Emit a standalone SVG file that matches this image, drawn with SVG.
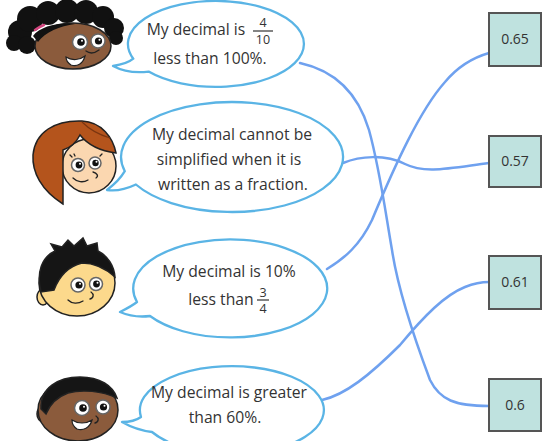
<svg xmlns="http://www.w3.org/2000/svg" width="542" height="441" viewBox="0 0 542 441">
  <style>
    .bubble { fill: #ffffff; stroke: #5ab4e5; stroke-width: 2.3; stroke-linejoin: round; }
    .txt { font-family: "Open Sans", "Liberation Sans", sans-serif; font-size: 15.7px; fill: #333333; text-anchor: middle; }
    .frac { font-family: "Open Sans", "Liberation Sans", sans-serif; font-size: 12.5px; fill: #333333; text-anchor: middle; }
    .bar { stroke: #333333; stroke-width: 1.2; }
    .box { fill: #bfe2df; stroke: #555555; stroke-width: 2; }
    .val { font-family: "Open Sans", "Liberation Sans", sans-serif; font-size: 14px; fill: #333333; text-anchor: middle; }
    .link { fill: none; stroke: #6fa1ef; stroke-width: 2.5; stroke-linecap: round; stroke-linejoin: round; }
    .outline { stroke: #222222; stroke-width: 1.5; }
    .eyew { fill: #ffffff; stroke: #666666; stroke-width: 1.5; }
    .pupil { fill: #111111; }
    .glint { fill: #ffffff; }
    .line { fill: none; stroke: #222222; stroke-width: 1.3; stroke-linecap: round; }
  </style>

  <!-- connectors -->
  <g id="connectors">
    <path class="link" d="M 300 63 C 332 70 357 90 369 130 C 380 170 385 210 392 250 C 398 290 415 340 430 380 C 440 400 455 406 489 406"/>
    <path class="link" d="M 343 163 C 360 156 385 154 405 164 C 425 174 450 168 489 163"/>
    <path class="link" d="M 327 269 C 345 258 360 245 372 220 C 395 165 420 110 445 82 C 460 64 475 57 489 53"/>
    <path class="link" d="M 322 400 C 345 395 370 375 400 345 C 425 315 445 295 465 287 C 475 283 482 282 489 282"/>
  </g>

  <!-- speaker 1 -->
  <g id="speaker1">
    <g id="face1">
      <g fill="#111111">
        <circle cx="20" cy="32" r="12"/>
        <circle cx="30" cy="19" r="13"/>
        <circle cx="48" cy="13" r="12"/>
        <circle cx="67" cy="11" r="12"/>
        <circle cx="86" cy="12" r="12"/>
        <circle cx="103" cy="17" r="11"/>
        <circle cx="114" cy="28" r="10"/>
        <circle cx="116" cy="38" r="7"/>
        <circle cx="14" cy="43" r="8"/>
        <circle cx="27" cy="45" r="9"/>
      </g>
      <ellipse cx="73" cy="46" rx="38" ry="23" fill="#8b5b3c" class="outline"/>
      <path d="M 33 36 C 40 26 60 22 75 24 C 60 26 45 32 38 42 Z" fill="#111111"/>
      <path d="M 35 30 C 38 28 41 26 44 25" fill="none" stroke="#d2457e" stroke-width="2.5" stroke-linecap="round"/>
      <circle cx="80" cy="42" r="7.5" class="eyew"/>
      <circle cx="81" cy="42" r="3.8" class="pupil"/>
      <circle cx="82" cy="40.8" r="1" class="glint"/>
      <circle cx="98" cy="41" r="7" class="eyew"/>
      <circle cx="98.5" cy="41" r="3.6" class="pupil"/>
      <circle cx="99.5" cy="39.8" r="1" class="glint"/>
      <path class="line" d="M 86 51 C 90 54 95 53 99 50"/>
      <path d="M 66 57 C 72 61 80 60 85 56 C 83 64 77 67 71 65 C 68 63 66 60 66 57 Z" fill="#ffffff" stroke="#222222" stroke-width="1.2"/>
    </g>
    <path class="bubble" d="M 148.6 71.6 Q 128 74 113 66 Q 127 64 133.3 58.7 A 88 43 0 1 1 148.6 71.6 Z"/>
    <text class="txt" x="196" y="35">My decimal is</text>
    <text class="frac" x="263" y="27">4</text>
    <line class="bar" x1="253" y1="31" x2="273" y2="31"/>
    <text class="frac" x="263" y="44">10</text>
    <text class="txt" x="210" y="64">less than 100%.</text>
  </g>

  <!-- speaker 2 -->
  <g id="speaker2">
    <g id="face2">
      <ellipse cx="89" cy="166" rx="27" ry="27" fill="#fbd7b0" class="outline"/>
      <path d="M 63 204 C 41 190 32 172 33 155 C 35 132 55 120 82 121 C 102 122 113 138 116 153 C 100 151 88 145 80 135 C 76 143 69 148 63 150 Z" fill="#b4541c" class="outline"/>
      <path d="M 82 122 C 90 130 100 135 110 138" fill="none" stroke="#7a3510" stroke-width="1.2"/>
      <circle cx="78" cy="165" r="6.5" class="eyew"/>
      <circle cx="79" cy="165" r="3.4" class="pupil"/>
      <circle cx="80" cy="163.8" r="1" class="glint"/>
      <circle cx="95" cy="163" r="6" class="eyew"/>
      <circle cx="95.5" cy="163" r="3.2" class="pupil"/>
      <circle cx="96.5" cy="161.8" r="1" class="glint"/>
      <path class="line" d="M 72 157 L 70 155 M 75 156 L 74 154 M 100 156 L 102 154"/>
      <path class="line" d="M 93 172 C 97 173 99 176 96 178"/>
      <path class="line" d="M 73 178 C 77 182 83 183 88 180"/>
    </g>
    <path class="bubble" d="M 135.9 184.5 Q 120 192 107 190 Q 119 181 124.8 171.2 A 111 55 0 1 1 135.9 184.5 Z"/>
    <text class="txt" x="232" y="140">My decimal cannot be</text>
    <text class="txt" x="229" y="165">simplified when it is</text>
    <text class="txt" x="233" y="190">written as a fraction.</text>
  </g>

  <!-- speaker 3 -->
  <g id="speaker3">
    <g id="face3">
      <ellipse cx="43" cy="297" rx="6" ry="8" fill="#fcd98c" class="outline"/>
      <ellipse cx="77" cy="283" rx="38" ry="33" fill="#fcd98c" class="outline"/>
      <path d="M 41 292 C 36 272 42 257 55 251 L 51 244 L 62 247 L 68 240 L 74 246 L 83 238 L 87 246 L 97 243 L 98 251 C 108 256 114 266 115 277 C 105 268 93 263 82 263 C 70 266 60 274 54 290 Z" fill="#151515" class="outline"/>
      <circle cx="78" cy="285" r="7" class="eyew"/>
      <circle cx="79" cy="285" r="3.6" class="pupil"/>
      <circle cx="80" cy="283.8" r="1" class="glint"/>
      <circle cx="96" cy="284" r="6.5" class="eyew"/>
      <circle cx="96.5" cy="284" r="3.4" class="pupil"/>
      <circle cx="97.5" cy="282.8" r="1" class="glint"/>
      <path class="line" d="M 91 292 C 94 294 94 298 90 299"/>
      <path class="line" d="M 68 300 C 72 304 78 304 83 301"/>
    </g>
    <path class="bubble" d="M 150 316 Q 134 318 120 312 Q 132 306 137 302 A 97 49 0 1 1 150 316 Z"/>
    <text class="txt" x="229" y="277">My decimal is 10%</text>
    <text class="txt" x="221" y="305">less than</text>
    <text class="frac" x="263" y="297">3</text>
    <line class="bar" x1="257" y1="300" x2="269" y2="300"/>
    <text class="frac" x="263" y="313">4</text>
  </g>

  <!-- speaker 4 -->
  <g id="speaker4">
    <g id="face4">
      <ellipse cx="43" cy="414" rx="6" ry="8" fill="#8b5b3c" class="outline"/>
      <ellipse cx="78" cy="410" rx="40" ry="31" fill="#8b5b3c" class="outline"/>
      <path d="M 41 409 C 40 388 58 377 80 377 C 100 377 113 386 117 398 C 102 391 82 389 68 393 C 57 397 50 404 46 414 Z" fill="#151515" class="outline"/>
      <circle cx="82" cy="408" r="7.5" class="eyew"/>
      <circle cx="83" cy="408" r="3.8" class="pupil"/>
      <circle cx="84" cy="406.8" r="1" class="glint"/>
      <circle cx="103" cy="407" r="7" class="eyew"/>
      <circle cx="103.5" cy="407" r="3.6" class="pupil"/>
      <circle cx="104.5" cy="405.8" r="1" class="glint"/>
      <path class="line" d="M 96 416 C 99 418 99 422 95 423"/>
      <path d="M 72 420 C 78 424 86 424 92 420 C 90 428 83 431 77 429 C 74 427 72 424 72 420 Z" fill="#ffffff" stroke="#222222" stroke-width="1.2"/>
    </g>
    <path class="bubble" d="M 152 432 Q 136 430 122 422 Q 134 422 141 417 A 92 44 0 1 1 152 432 Z"/>
    <text class="txt" x="229" y="398">My decimal is greater</text>
    <text class="txt" x="225" y="423">than 60%.</text>
  </g>

  <!-- answer boxes -->
  <g id="box065">
    <rect class="box" x="489" y="13" width="52" height="53"/>
    <text class="val" x="515" y="44">0.65</text>
  </g>
  <g id="box057">
    <rect class="box" x="489" y="136" width="52" height="51"/>
    <text class="val" x="515" y="166">0.57</text>
  </g>
  <g id="box061">
    <rect class="box" x="489" y="256" width="52" height="53"/>
    <text class="val" x="515" y="287">0.61</text>
  </g>
  <g id="box06">
    <rect class="box" x="489" y="379" width="52" height="52"/>
    <text class="val" x="515" y="410">0.6</text>
  </g>
</svg>
